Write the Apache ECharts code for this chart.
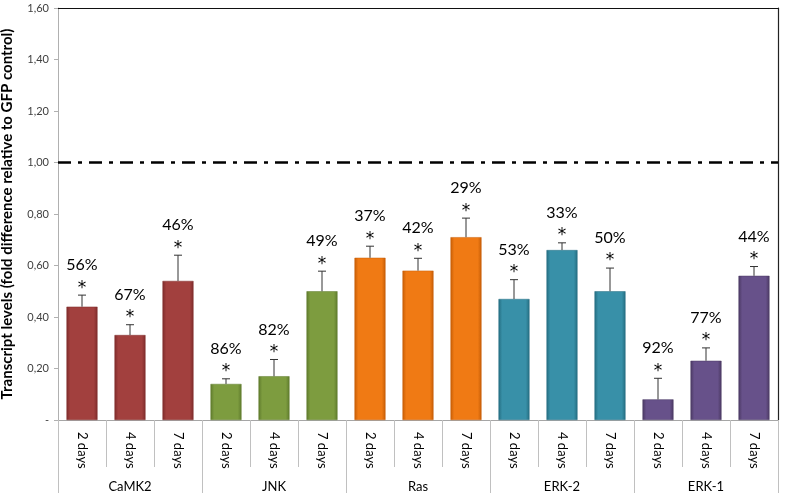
<!DOCTYPE html>
<html>
<head>
<meta charset="utf-8">
<script src="https://cdn.jsdelivr.net/npm/echarts@6/dist/echarts.min.js"></script>
<style>
html,body{margin:0;padding:0;background:#fff;}
#c{width:786px;height:498px;}
</style>
</head>
<body>
<div id="c"></div>
<script>
var groups = ['CaMK2', 'JNK', 'Ras', 'ERK-2', 'ERK-1'];
var days = ['2 days', '4 days', '7 days'];
var values = [0.44, 0.33, 0.54, 0.14, 0.17, 0.50, 0.63, 0.58, 0.71, 0.47, 0.66, 0.50, 0.08, 0.23, 0.56];
var errors = [0.045, 0.04, 0.10, 0.02, 0.065, 0.078, 0.045, 0.048, 0.074, 0.075, 0.028, 0.09, 0.082, 0.05, 0.036];
var percents = ['56%', '67%', '46%', '86%', '82%', '49%', '37%', '42%', '29%', '53%', '33%', '50%', '92%', '77%', '44%'];
var yTicks = [0, 0.2, 0.4, 0.6, 0.8, 1.0, 1.2, 1.4, 1.6];
var refLine = 1.0;

var groupColors = [
  ['#7e2c2b', '#a2403e'],
  ['#5e7a2c', '#7d9c3f'],
  ['#c65d06', '#f07a14'],
  ['#246d80', '#3890a8'],
  ['#4a3862', '#67518a']
];

var categories = [];
var groupOfCat = [];
groups.forEach(function (g, gi) {
  days.forEach(function (d) { categories.push(d); groupOfCat.push(gi); });
});

var barData = values.map(function (v, i) {
  var c = groupColors[groupOfCat[i]];
  return {
    value: v,
    itemStyle: {
      color: new echarts.graphic.LinearGradient(0, 0, 1, 0, [
        {offset: 0, color: c[0]},
        {offset: 0.12, color: c[1]},
        {offset: 0.88, color: c[1]},
        {offset: 1, color: c[0]}
      ]),
      borderColor: c[0],
      borderWidth: 0.5
    }
  };
});

var errData = values.map(function (v, i) { return [i, v, v + errors[i]]; });

var font = 'Lato, "Open Sans", sans-serif';

var chart = echarts.init(document.getElementById('c'), null, {renderer: 'canvas'});
chart.setOption({
  animation: false,
  textStyle: {fontFamily: font},
  grid: {left: 58, right: 8, top: 8, bottom: 78, containLabel: false, outerBoundsMode: 'none'},
  xAxis: [
    {
      type: 'category', data: categories, position: 'bottom',
      axisLine: {show: true, lineStyle: {color: '#a6a6a6', width: 1}},
      axisTick: {show: true, interval: 0, length: 47, lineStyle: {color: '#c0c0c0'}},
      axisLabel: {interval: 0, rotate: -90, margin: 12, fontSize: 13, color: '#000', fontFamily: font},
      splitLine: {show: false}
    },
    {
      type: 'category', data: groups, position: 'bottom',
      axisLine: {show: false},
      axisTick: {show: true, interval: 0, length: 73, lineStyle: {color: '#c0c0c0'}},
      axisLabel: {interval: 0, margin: 60, fontSize: 13, color: '#000', fontFamily: font},
      splitLine: {show: false}
    },
    {
      type: 'category', data: categories, position: 'top',
      axisLine: {show: true, lineStyle: {color: '#111', width: 1}},
      axisTick: {show: false}, axisLabel: {show: false}
    }
  ],
  yAxis: [
    {
      type: 'value', min: 0, max: 1.6, interval: 0.2,
      name: 'Transcript levels (fold difference relative to GFP control)',
      nameLocation: 'middle', nameGap: 43,
      nameTextStyle: {fontSize: 15, fontWeight: 'bold', color: '#000', fontFamily: font},
      axisLine: {show: true, lineStyle: {color: '#b0b0b0'}},
      axisTick: {show: true, length: 4, lineStyle: {color: '#b0b0b0'}},
      axisLabel: {
        fontSize: 11, color: '#404040', margin: 9, fontFamily: font,
        formatter: function (v) { return v === 0 ? '-' : v.toFixed(2).replace('.', ','); }
      },
      splitLine: {show: false}
    },
    {
      type: 'value', min: 0, max: 1.6, position: 'right',
      axisLine: {show: true, lineStyle: {color: '#222', width: 1.2}},
      axisTick: {show: false}, axisLabel: {show: false}, splitLine: {show: false}
    }
  ],
  series: [
    {
      type: 'bar', xAxisIndex: 0, yAxisIndex: 0, data: barData, barWidth: 31,
      markLine: {
        silent: true, symbol: ['none', 'none'],
        label: {show: false},
        lineStyle: {color: '#000', width: 2.5, type: [13, 7, 4, 7]},
        data: [{yAxis: refLine}]
      }
    },
    {
      type: 'custom', xAxisIndex: 0, yAxisIndex: 0, data: errData,
      encode: {x: 0, y: [1, 2]},
      renderItem: function (params, api) {
        var i = api.value(0);
        var base = api.coord([i, api.value(1)]);
        var top = api.coord([i, api.value(2)]);
        var x = base[0];
        return {
          type: 'group',
          children: [
            {type: 'line', shape: {x1: x, y1: base[1], x2: x, y2: top[1]}, style: {stroke: '#333', lineWidth: 1}},
            {type: 'line', shape: {x1: x - 4, y1: top[1], x2: x + 4, y2: top[1]}, style: {stroke: '#333', lineWidth: 1}},
            {type: 'text', style: {text: '*', x: x, y: top[1] - 7, textAlign: 'center', textVerticalAlign: 'middle', font: '17px "DejaVu Sans", sans-serif', fill: '#000'}},
            {type: 'text', style: {text: percents[params.dataIndex], x: x, y: top[1] - 30, textAlign: 'center', textVerticalAlign: 'middle', font: '16px ' + font, fill: '#000'}}
          ]
        };
      },
      z: 3
    }
  ]
});
</script>
</body>
</html>
